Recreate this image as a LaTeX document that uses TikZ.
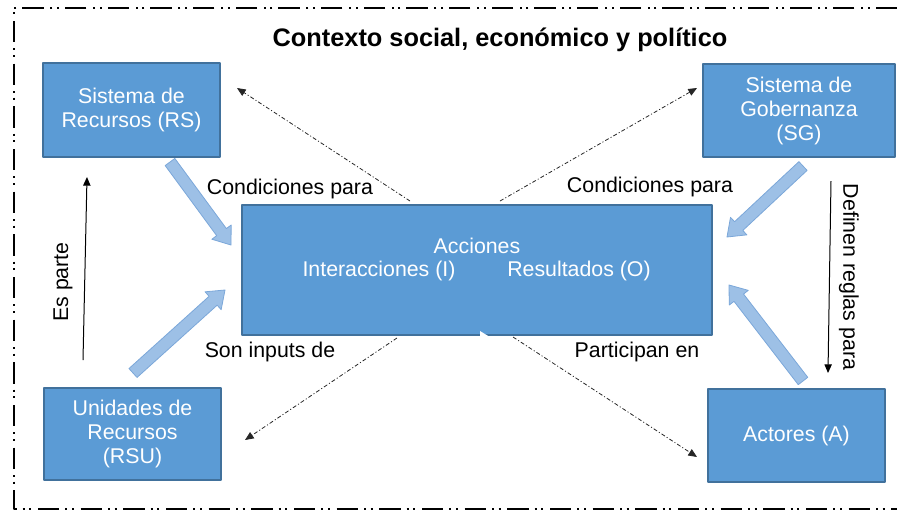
\documentclass[tikz,border=0pt]{standalone}
\usepackage{fontspec}
\setmainfont{Liberation Sans}
\usetikzlibrary{calc,arrows.meta}
\definecolor{boxfill}{HTML}{5B9BD5}
\definecolor{boxline}{HTML}{41719C}
\definecolor{fatfill}{HTML}{9DC0E6}
\definecolor{fatline}{HTML}{7BA7D9}
\begin{document}
\begin{tikzpicture}[x=0.75pt, y=-0.75pt, font=\fontsize{16}{18}\selectfont, line join=round, >={Triangle[length=6.5pt,width=5.5pt]},
	box/.style={draw=boxline, line width=1.5pt, fill=boxfill, text=white, align=center, inner sep=0pt},
	fatarrow/.style={draw=fatline, line width=0.6pt, fill=fatfill},
	dashdot/.style={line width=0.6pt, black!85, dash pattern=on 3pt off 1.6pt on 0.8pt off 1.6pt},
	frame/.style={line width=1.5pt, dash pattern=on 16pt off 4.5pt on 1.5pt off 3.5pt on 1.5pt off 5pt},
	lbl/.style={inner sep=0pt}]
			\useasboundingbox (0,0) rectangle (897,512);
			\draw[frame] (897,8)--(14,8)--(14,509)--(897,509);
			\node[font=\fontsize{19}{22}\selectfont\bfseries] (title) at (500,40) {Contexto social, económico y político};
			% boxes
			\node[box, minimum width=132.75pt, minimum height=70.5pt] (rs) at (131.5,110) {Sistema de\\Recursos (RS)};
			\node[box, minimum width=144pt, minimum height=69.75pt] (sg) at (799,110.5) {Sistema de\\Gobernanza\\(SG)};
			\node[box, minimum width=132.75pt, minimum height=69pt] (rsu) at (132.5,434) {Unidades de\\Recursos\\(RSU)};
			\node[box, minimum width=132.75pt, minimum height=69.75pt] (act) at (796.5,435.5) {Actores (A)};
			\node[box, minimum width=352.5pt, minimum height=97.5pt] (acc) at (477,270) {};
			\fill[white] (480,331)--(489,336.5)--(480,336.5)--cycle;
			\node[lbl, text=white] (acctit) at (477,246) {Acciones};
			\node[lbl, text=white] (inter) at (379,271) {Interacciones (I)};
			\node[lbl, text=white] (result) at (579,271) {Resultados (O)};
			% fat arrows
			\coordinate (t1) at (170,162); \coordinate (h1) at (231,245);
			\coordinate (t2) at (133,373); \coordinate (h2) at (225,290);
			\coordinate (t3) at (803,166); \coordinate (h3) at (727,237);
			\coordinate (t4) at (803,381); \coordinate (h4) at (729,285);
			\foreach \t/\h in {t1/h1, t2/h2, t3/h3, t4/h4}{
				\coordinate (m) at ($(\h)!12pt!(\t)$);
				\draw[fatarrow] ($(\t)!4.5pt!90:(\h)$)--($(m)!4.5pt!90:(\h)$)--($(m)!9pt!90:(\h)$)--(\h)
					--($(m)!9pt!-90:(\h)$)--($(m)!4.5pt!-90:(\h)$)--($(\t)!4.5pt!-90:(\h)$)--cycle;
			}
			% dash-dot arrows
			\coordinate (d1) at (410,201); \coordinate (e1) at (237,88);
			\coordinate (d2) at (500,201); \coordinate (e2) at (697,88);
			\coordinate (d3) at (397,338); \coordinate (e3) at (245,440);
			\coordinate (d4) at (513,337); \coordinate (e4) at (697,457);
			\foreach \d/\e in {d1/e1, d2/e2, d3/e3, d4/e4}
			\draw[dashdot,->] (\d)--(\e);
			% thin arrows
			\coordinate (p1) at (83,360); \coordinate (q1) at (87,177);
			\coordinate (p2) at (831,181); \coordinate (q2) at (828,373);
			\draw[line width=0.75pt, ->] (p1)--(q1);
			\draw[line width=0.75pt, ->] (p2)--(q2);
			\node[lbl, rotate=90] (espar) at (63,282) {Es parte};
			\node[lbl, rotate=-90] (defin) at (849,277) {Definen reglas para};
			% labels
			\node[lbl] (cond1) at (290,189) {Condiciones para};
			\node[lbl] (cond2) at (650,187) {Condiciones para};
			\node[lbl] (inputs) at (270,352) {Son inputs de};
			\node[lbl] (partic) at (637,352) {Participan en};
		\end{tikzpicture}
\end{document}
